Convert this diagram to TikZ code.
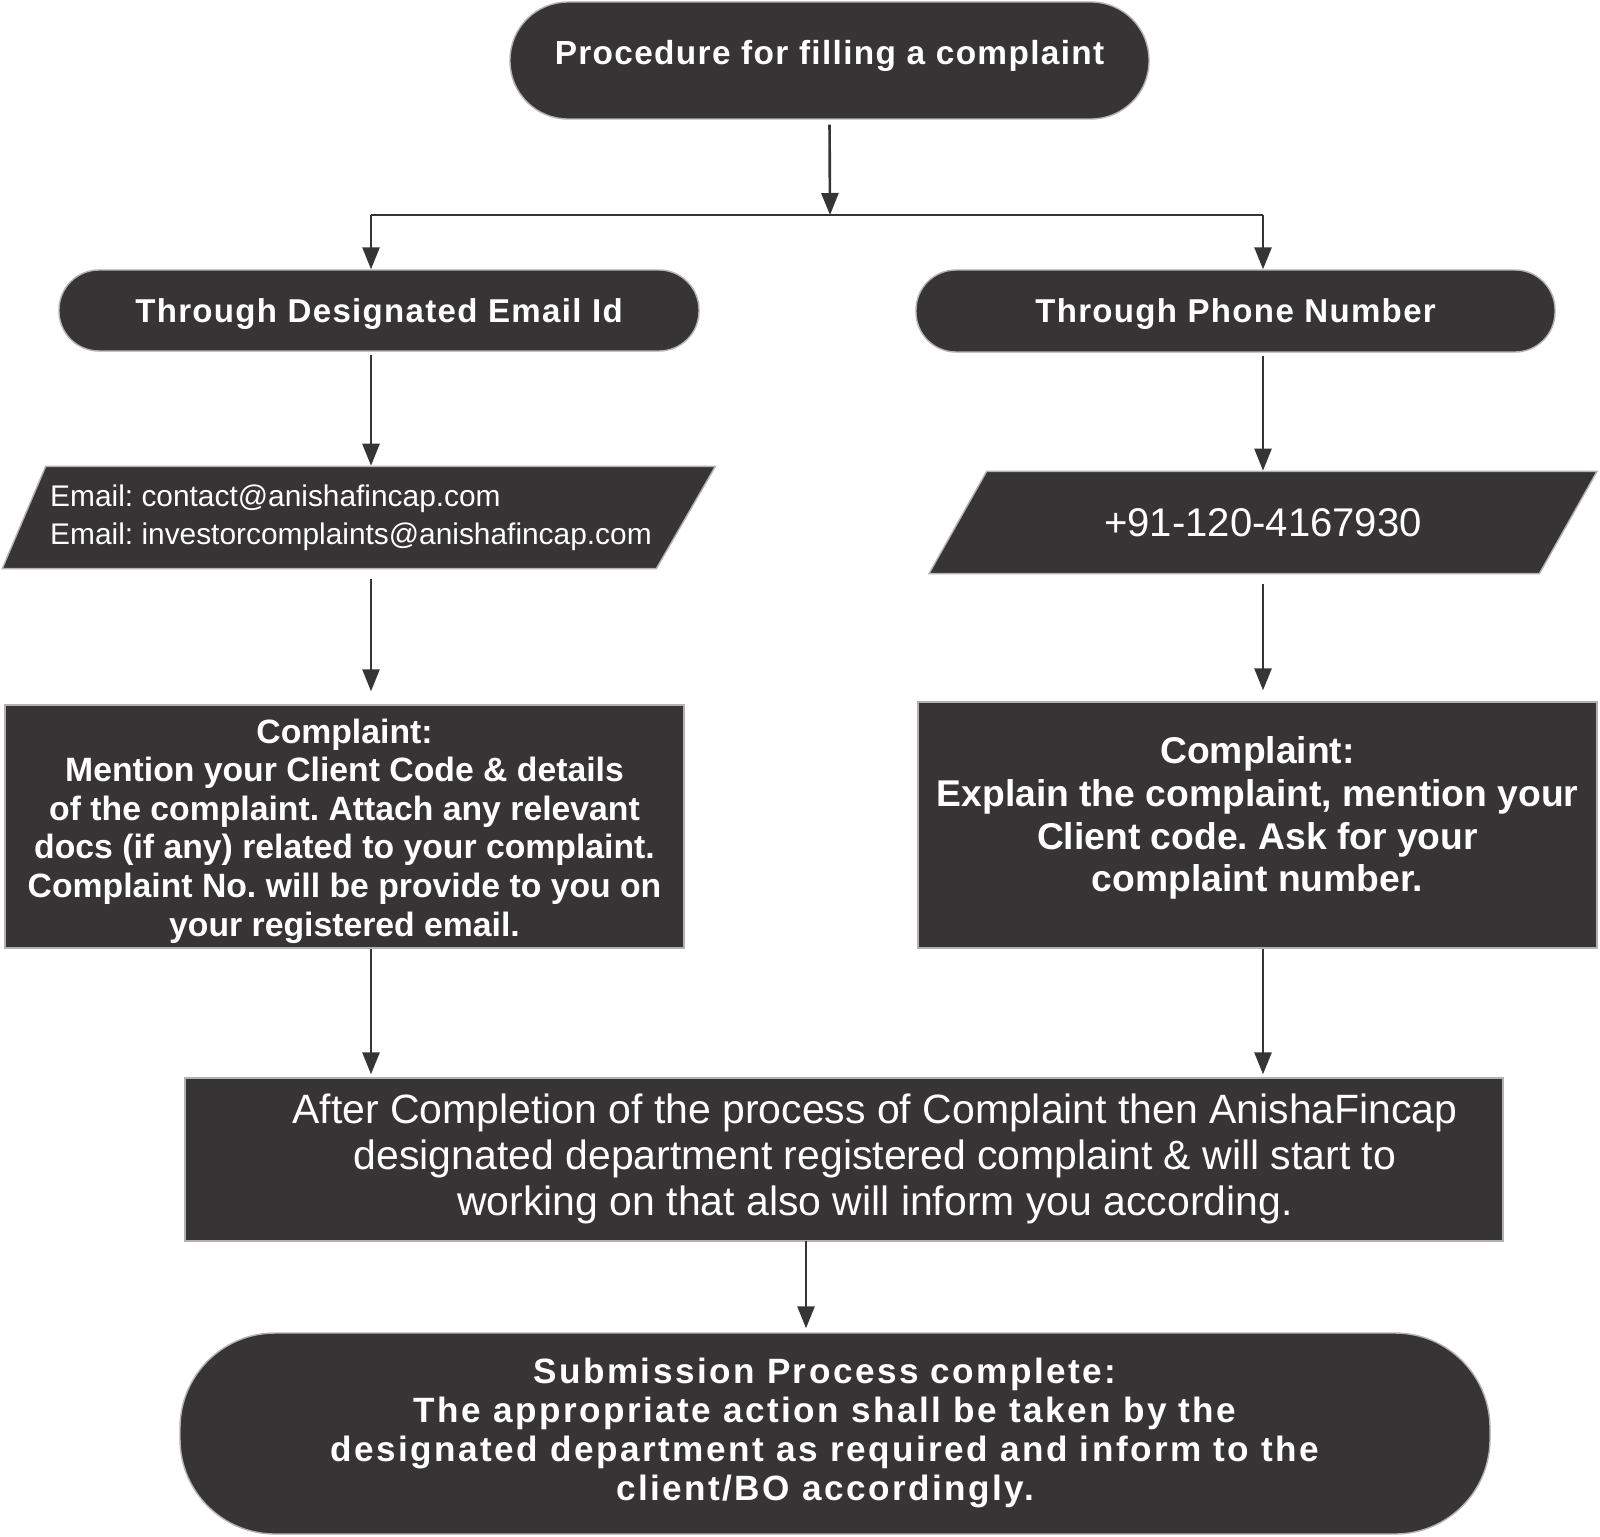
\documentclass[tikz,border=0pt]{standalone}
\usepackage{fontspec}
\setmainfont{Liberation Sans}
\newfontfamily\headfont[LetterSpace=4]{Liberation Sans}
\newfontfamily\closefont[LetterSpace=7]{Liberation Sans}
\usetikzlibrary{positioning,arrows.meta,shapes.geometric,calc}
\frenchspacing
\definecolor{boxgray}{RGB}{54,52,53}
\tikzset{
  flowline/.style={line width=0.75pt, boxgray},
  flowarrow/.style={-{Triangle[length=2.2mm, width=1.7mm]}, line width=0.75pt, boxgray},
  pillnode/.style={draw=gray!60, fill=boxgray, text=white, align=center, inner sep=0pt},
  datanode/.style={trapezium, trapezium stretches body, draw=gray!60, fill=boxgray, text=white, inner xsep=0pt},
  stepbox/.style={draw=gray!60, fill=boxgray, text=white, align=center, inner sep=0pt},
  boxtext/.style={text=white, align=center, inner sep=0pt}
}

\begin{document}
\begin{tikzpicture}
  \useasboundingbox (0,0) rectangle (16,-15.36);
  % start
  \node[pillnode, minimum width=6.39cm, minimum height=1.17cm, rounded corners=0.58cm,
        font=\headfont\bfseries\fontsize{9.5}{11}\selectfont] (title) at (8.295,-0.605)
        {\raisebox{0.17cm}{Procedure for filling a complaint}};
  % two ways
  \node[pillnode, minimum width=6.40cm, minimum height=0.81cm, rounded corners=0.40cm, text depth=0pt,
        font=\headfont\bfseries\fontsize{9.4}{11}\selectfont] (emailhd) at (3.79,-3.105)
        {Through Designated Email Id};
  \node[pillnode, minimum width=6.39cm, minimum height=0.82cm, rounded corners=0.40cm, text depth=0pt,
        font=\headfont\bfseries\fontsize{9.4}{11}\selectfont] (phonehd) at (12.355,-3.11)
        {Through Phone Number};
  % contact data
  \node[datanode, trapezium left angle=67, trapezium right angle=120,
        minimum width=7.13cm, inner ysep=0.18cm, align=left,
        font=\fontsize{8.5}{10.9}\selectfont] (emaildata) at (3.51,-5.175)
        {Email: contact@anishafincap.com\\Email: investorcomplaints@anishafincap.com};
  \node[datanode, trapezium left angle=60.6, trapezium right angle=119.4,
        minimum width=6.68cm, inner ysep=0.37cm,
        font=\fontsize{11.4}{13}\selectfont] (phonedata) at (12.63,-5.225)
        {+91-120-4167930};
  % complaint details
  \node[stepbox, minimum width=6.79cm, minimum height=2.43cm] (emailbox) at (3.445,-8.265) {};
  \node[boxtext, font=\bfseries\fontsize{9.6}{11}\selectfont] (emailtxt)
        at ($(emailbox.center)+(0,-0.045)$)
        {Complaint:\\Mention your Client Code \& details\\of the complaint. Attach any relevant\\
         docs (if any) related to your complaint.\\Complaint No. will be provide to you on\\your registered email.};
  \node[stepbox, minimum width=6.79cm, minimum height=2.46cm] (phonebox) at (12.575,-8.25) {};
  \node[boxtext, font=\bfseries\fontsize{10.6}{12.2}\selectfont] (phonetxt)
        at ($(phonebox.center)+(0,0.07)$)
        {Complaint:\\Explain the complaint, mention your\\Client code. Ask for your\\complaint number.};
  % registration
  \node[stepbox, minimum width=13.18cm, minimum height=1.63cm] (process) at (8.44,-11.595) {};
  \node[boxtext, font=\fontsize{11.65}{13.1}\selectfont] (processtxt)
        at ($(process.center)+(0.31,0.01)$)
        {After Completion of the process of Complaint then AnishaFincap\\
         designated department registered complaint \& will start to\\
         working on that also will inform you according.};
  % end
  \node[pillnode, minimum width=13.10cm, minimum height=2.01cm, rounded corners=0.95cm] (final) at (8.35,-14.335) {};
  \node[boxtext, font=\closefont\bfseries\fontsize{10}{11.1}\selectfont] (finaltxt)
        at ($(final.center)+(-0.10,0.01)$)
        {Submission Process complete:\\The appropriate action shall be taken by the\\
         designated department as required and inform to the\\client/BO accordingly.};

  % connectors
  \coordinate (split) at (8.30,-2.15);
  \coordinate (splitL) at (3.71,-2.15);
  \coordinate (splitR) at (12.63,-2.15);
  \coordinate (handoff) at (8.06,-12.41);
  \draw[flowarrow, shorten <=0.05cm] (title.south) -- (split);
  \draw[flowline] (splitL) -- (splitR);
  \draw[flowarrow] (splitL) -- (splitL |- emailhd.north);
  \draw[flowarrow] (splitR) -- (splitR |- phonehd.north);
  \draw[flowarrow, shorten <=0.03cm] (emailhd.south -| splitL) -- (emaildata.north -| splitL);
  \draw[flowarrow, shorten <=0.03cm] (phonehd.south -| splitR) -- (phonedata.north -| splitR);
  \draw[flowarrow, shorten <=0.1cm, shorten >=0.13cm] (emaildata.south -| splitL) -- (emailbox.north -| splitL);
  \draw[flowarrow, shorten <=0.1cm, shorten >=0.11cm] (phonedata.south -| splitR) -- (phonebox.north -| splitR);
  \draw[flowarrow, shorten >=0.03cm] (emailbox.south -| splitL) -- (process.north -| splitL);
  \draw[flowarrow, shorten >=0.03cm] (phonebox.south -| splitR) -- (process.north -| splitR);
  \draw[flowarrow, shorten >=0.04cm] (handoff) -- (handoff |- final.north);
\end{tikzpicture}
\end{document}
